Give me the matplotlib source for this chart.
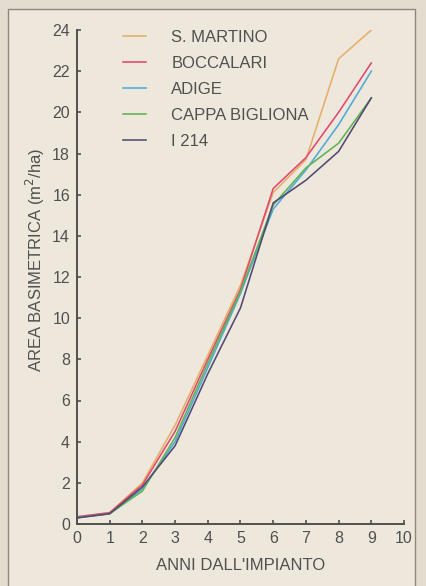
import numpy as np
import matplotlib

matplotlib.use("Agg")

import matplotlib.pyplot as plt
from matplotlib.patches import Rectangle

plt.rcParams["font.family"] = ["Liberation Sans", "DejaVu Sans"]

# basal area per planting year, one list per clone
years = [0, 1, 2, 3, 4, 5, 6, 7, 8, 9]
s_martino = [0.35, 0.55, 2.0, 4.8, 8.2, 11.6, 16.1, 17.7, 22.6, 24.0]
boccalari = [0.35, 0.55, 1.9, 4.5, 8.0, 11.4, 16.3, 17.8, 20.0, 22.4]
adige = [0.3, 0.5, 1.7, 4.0, 7.6, 11.2, 15.3, 17.2, 19.4, 22.0]
cappa_bigliona = [0.3, 0.5, 1.6, 4.2, 7.8, 11.3, 15.5, 17.3, 18.5, 20.7]
i214 = [0.3, 0.5, 1.8, 3.8, 7.3, 10.5, 15.6, 16.7, 18.1, 20.7]

labels = ["S. MARTINO", "BOCCALARI", "ADIGE", "CAPPA BIGLIONA", "I 214"]
colors = ["#e8ad6a", "#e2476f", "#4eaad6", "#5fb356", "#544872"]

BG = "#ede8db"
INK = "#505050"

fig = plt.figure(figsize=(4.26, 5.86), dpi=100)
fig.patch.set_facecolor("#e3ddcf")
fig.patches.append(
    Rectangle((8 / 426, -0.01), 407 / 426, 1 - 9 / 586 + 0.01,
              transform=fig.transFigure, facecolor=BG,
              edgecolor="#8d877c", linewidth=1.0, zorder=-10)
)

ax = fig.add_axes([77 / 426, 62 / 586, 327 / 426, 494 / 586])
ax.set_facecolor("none")

series = [s_martino, boccalari, adige, cappa_bigliona, i214]
for vals, lab, col in zip(series, labels, colors):
    ax.plot(years, vals, color=col, linewidth=1.15, label=lab)

ax.set_xlim(0, 10)
ax.set_ylim(0, 24)
ax.set_xticks(range(0, 11))
ax.set_yticks(range(0, 25, 2))

for side in ("top", "right"):
    ax.spines[side].set_visible(False)
for side in ("left", "bottom"):
    ax.spines[side].set_color(INK)
    ax.spines[side].set_linewidth(1.4)

ax.tick_params(direction="in", length=3, width=1.2, color=INK,
               labelsize=11.5, labelcolor=INK, pad=5)

fig.text(35 / 426, 1 - 260 / 586, "AREA BASIMETRICA (m$^2$/ha)",
         rotation=90, ha="center", va="center", fontsize=12, color=INK)
fig.text(241 / 426, 1 - 565 / 586, "ANNI DALL'IMPIANTO",
         ha="center", va="center", fontsize=12, color=INK)

ax.legend(loc="upper left", bbox_to_anchor=(0.095, 1.03), frameon=False,
          fontsize=12, handlelength=1.4, handletextpad=1.5,
          labelspacing=0.66, labelcolor=INK)

fig.savefig("out.png", dpi=100, facecolor=fig.get_facecolor())
